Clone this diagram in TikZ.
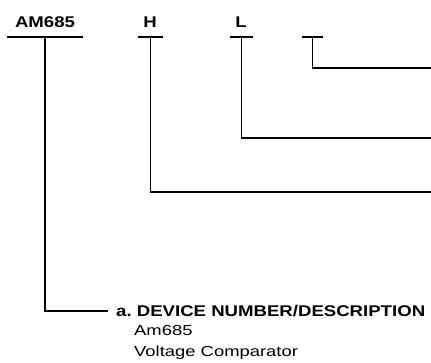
\documentclass[tikz,border=0pt]{standalone}
\usepackage{fontspec}
\setmainfont{Liberation Sans}
\newfontfamily\codefont[FakeStretch=1.2]{Liberation Sans}
\newfontfamily\bodyfont[FakeStretch=1.27]{Liberation Sans}
\usepackage{tikz}
\usetikzlibrary{calc,positioning}

\begin{document}
\begin{tikzpicture}[x=1pt,y=-1pt,
	lead/.style={draw=black,line width=1.8pt},
	code/.style={font=\codefont\bfseries\fontsize{15.5}{18}\selectfont,inner sep=0pt,anchor=base},
	head/.style={font=\codefont\bfseries\fontsize{15.5}{18}\selectfont,inner sep=0pt,anchor=base west},
	body/.style={font=\bodyfont\fontsize{14.5}{17}\selectfont,inner sep=0pt,anchor=base west}]
\useasboundingbox (0,0) rectangle (431,362);

%codes
\node [code] (am) at (45,27) {AM685};
\node [code] (h) at (150,27) {H};
\node [code] (l) at (241,27) {L};

%bars
\coordinate (amL) at (7,37);   \coordinate (amR) at (83,37);
\coordinate (hL) at (138,37);  \coordinate (hR) at (163,37);
\coordinate (lL) at (230,37);  \coordinate (lR) at (253,37);
\coordinate (xL) at (302,37);  \coordinate (xR) at (323,37);
\draw [lead] (amL) -- (amR);
\draw [lead] (hL) -- (hR);
\draw [lead] (lL) -- (lR);
\draw [lead] (xL) -- (xR);

%lead ends
\coordinate (xEnd) at (431,68);
\coordinate (lEnd) at (431,138);
\coordinate (hEnd) at (431,192);
\coordinate (amEnd) at (108,311);

\draw [lead] ($(xL)!0.5!(xR)$) |- (xEnd);
\draw [lead] ($(lL)!0.5!(lR)$) |- (lEnd);
\draw [lead] ($(hL)!0.5!(hR)$) |- (hEnd);
\draw [lead] ($(amL)!0.5!(amR)$) |- (amEnd);

%description
\node [head] (desc) at (116,316) {a.\ DEVICE NUMBER/DESCRIPTION};
\node [body] (dnum) at (134,335) {Am685};
\node [body] (dtxt) at (134,356) {Voltage Comparator};

\end{tikzpicture}
\end{document}
